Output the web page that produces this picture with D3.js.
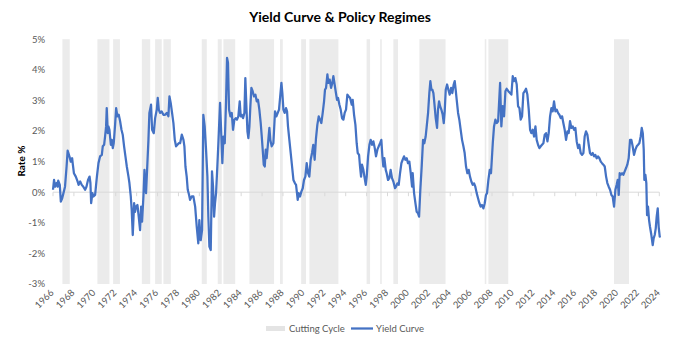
<!DOCTYPE html>
<html><head><meta charset="utf-8">
<script src="https://cdn.jsdelivr.net/npm/d3@7"></script>
<style>body{margin:0;background:#fff}svg{display:block}</style>
</head><body><svg id="c" width="680" height="343"></svg>
<script>
const xTicks=[1966,1968,1970,1972,1974,1976,1978,1980,1982,1984,1986,1988,1990,1992,1994,1996,1998,2000,2002,2004,2006,2008,2010,2012,2014,2016,2018,2020,2022,2024];
const yTicks=[-3,-2,-1,0,1,2,3,4,5];
const cutStart=[1966.9,1970.25,1971.75,1974.5,1975.77,1976.56,1980.23,1981.76,1982.3,1984.79,1987.72,1989.74,1990.53,1996.0,1997.3,1998.56,2001.05,2007.3,2007.65,2019.67];
const cutEnd=[1967.6,1971.4,1972.4,1975.3,1976.4,1977.27,1980.71,1982.14,1983.43,1987.15,1987.98,1990.2,1993.3,1996.33,1997.45,1999.0,2003.55,2007.45,2009.55,2021.1];
const dates=[1966.0,1966.1,1966.2,1966.35,1966.45,1966.5,1966.65,1966.75,1966.88,1967.0,1967.15,1967.3,1967.4,1967.57,1967.7,1967.83,1967.9,1968.0,1968.18,1968.35,1968.45,1968.6,1968.75,1968.9,1969.07,1969.2,1969.35,1969.5,1969.58,1969.65,1969.77,1969.87,1970.03,1970.2,1970.35,1970.5,1970.67,1970.76,1970.89,1970.98,1971.08,1971.14,1971.24,1971.3,1971.4,1971.53,1971.62,1971.72,1971.81,1971.94,1972.04,1972.16,1972.29,1972.42,1972.55,1972.67,1972.8,1972.93,1973.06,1973.22,1973.31,1973.44,1973.53,1973.63,1973.76,1973.85,1973.95,1974.08,1974.2,1974.33,1974.43,1974.52,1974.65,1974.75,1974.84,1974.9,1975.03,1975.13,1975.22,1975.38,1975.48,1975.64,1975.77,1975.93,1976.02,1976.12,1976.24,1976.4,1976.56,1976.72,1976.88,1977.04,1977.14,1977.26,1977.39,1977.52,1977.65,1977.77,1977.9,1978.03,1978.16,1978.32,1978.48,1978.57,1978.67,1978.79,1978.89,1979.02,1979.11,1979.27,1979.43,1979.6,1979.75,1979.9,1980.0,1980.13,1980.26,1980.38,1980.51,1980.64,1980.77,1980.86,1980.96,1981.09,1981.21,1981.31,1981.41,1981.5,1981.6,1981.72,1981.82,1981.98,1982.08,1982.2,1982.3,1982.43,1982.55,1982.65,1982.74,1982.84,1982.97,1983.1,1983.22,1983.35,1983.48,1983.6,1983.73,1983.86,1983.96,1984.05,1984.18,1984.31,1984.4,1984.5,1984.6,1984.69,1984.79,1984.88,1984.98,1985.1,1985.23,1985.36,1985.49,1985.61,1985.74,1985.87,1985.97,1986.06,1986.16,1986.26,1986.35,1986.44,1986.57,1986.7,1986.79,1986.92,1987.08,1987.24,1987.37,1987.5,1987.62,1987.75,1987.85,1987.94,1988.04,1988.16,1988.29,1988.39,1988.48,1988.61,1988.74,1988.87,1989.0,1989.15,1989.25,1989.34,1989.41,1989.5,1989.63,1989.76,1989.89,1990.01,1990.14,1990.27,1990.4,1990.52,1990.65,1990.78,1990.9,1991.03,1991.16,1991.29,1991.42,1991.54,1991.67,1991.8,1991.93,1992.02,1992.12,1992.25,1992.34,1992.47,1992.6,1992.72,1992.82,1992.92,1993.04,1993.17,1993.27,1993.4,1993.52,1993.65,1993.78,1993.9,1994.03,1994.16,1994.29,1994.42,1994.58,1994.67,1994.8,1994.93,1995.05,1995.15,1995.28,1995.37,1995.47,1995.56,1995.69,1995.79,1995.92,1996.01,1996.14,1996.27,1996.39,1996.52,1996.65,1996.78,1996.9,1997.03,1997.16,1997.29,1997.41,1997.51,1997.6,1997.7,1997.83,1997.92,1998.05,1998.18,1998.3,1998.43,1998.56,1998.72,1998.82,1998.94,1999.07,1999.2,1999.33,1999.45,1999.58,1999.71,1999.84,1999.96,2000.09,2000.22,2000.35,2000.41,2000.54,2000.67,2000.79,2000.92,2001.02,2001.14,2001.27,2001.4,2001.52,2001.65,2001.75,2001.88,2002.0,2002.1,2002.2,2002.29,2002.39,2002.48,2002.61,2002.74,2002.83,2002.93,2003.03,2003.15,2003.28,2003.38,2003.47,2003.57,2003.7,2003.82,2003.95,2004.08,2004.2,2004.33,2004.43,2004.52,2004.62,2004.75,2004.87,2005.0,2005.13,2005.26,2005.38,2005.51,2005.64,2005.77,2005.89,2006.02,2006.15,2006.28,2006.4,2006.53,2006.66,2006.79,2006.91,2007.04,2007.17,2007.3,2007.42,2007.52,2007.65,2007.78,2007.9,2008.07,2008.19,2008.32,2008.45,2008.58,2008.77,2008.89,2009.02,2009.15,2009.28,2009.4,2009.56,2009.72,2009.85,2009.98,2010.1,2010.23,2010.36,2010.49,2010.62,2010.74,2010.87,2011.0,2011.13,2011.25,2011.38,2011.51,2011.64,2011.76,2011.89,2012.02,2012.15,2012.27,2012.4,2012.53,2012.66,2012.78,2012.91,2013.04,2013.17,2013.3,2013.42,2013.55,2013.68,2013.8,2013.93,2014.06,2014.19,2014.31,2014.44,2014.57,2014.7,2014.82,2014.95,2015.08,2015.21,2015.33,2015.46,2015.59,2015.72,2015.85,2015.97,2016.1,2016.23,2016.35,2016.48,2016.61,2016.74,2016.86,2016.99,2017.12,2017.25,2017.37,2017.5,2017.63,2017.76,2017.88,2018.01,2018.14,2018.27,2018.4,2018.52,2018.65,2018.78,2018.91,2019.03,2019.16,2019.29,2019.42,2019.54,2019.67,2019.8,2019.92,2020.02,2020.12,2020.21,2020.31,2020.44,2020.56,2020.69,2020.82,2020.94,2021.07,2021.2,2021.33,2021.45,2021.58,2021.71,2021.84,2021.97,2022.09,2022.22,2022.32,2022.42,2022.51,2022.57,2022.67,2022.76,2022.83,2022.92,2023.02,2023.11,2023.24,2023.37,2023.46,2023.56,2023.66,2023.75,2023.85,2023.94,2024.04,2024.1];
const yields=[0.08,0.40,0.18,0.30,0.18,0.38,0.24,-0.31,-0.20,-0.03,0.18,0.84,1.36,1.17,1.00,1.11,0.90,0.62,0.51,0.35,0.24,0.35,0.24,0.18,0.08,0.18,0.40,0.51,0.30,-0.36,-0.03,-0.14,-0.09,0.51,0.95,1.17,1.22,1.50,1.55,1.82,2.15,2.75,1.93,2.15,2.04,1.55,1.71,1.44,1.60,2.20,2.75,2.48,2.53,2.32,2.04,1.88,1.50,1.17,0.84,0.51,0.30,-0.14,-0.58,-1.40,-0.36,-0.64,-0.47,-0.42,-0.80,-1.24,-0.47,-0.96,-0.14,0.73,0.07,-0.03,0.95,1.71,2.59,2.86,2.04,1.93,2.42,2.70,3.08,2.70,2.59,2.64,2.53,2.53,2.59,2.48,3.13,2.92,2.59,2.26,1.71,1.50,1.55,1.60,1.60,1.88,1.71,1.50,0.84,0.51,0.08,-0.09,-0.25,-0.14,-0.14,-0.47,-1.13,-1.67,-0.91,-1.57,-1.24,2.53,2.15,1.39,0.51,-0.80,-1.78,-1.89,0.68,0.18,-0.80,-0.36,-0.03,0.84,1.60,2.92,2.04,0.95,1.82,1.60,2.92,4.39,4.23,2.70,2.48,2.59,2.04,2.37,2.42,2.37,2.48,2.97,2.48,2.53,2.42,2.59,3.73,2.81,1.99,1.77,2.15,2.81,3.41,3.30,3.13,3.19,2.97,3.02,2.70,2.26,1.82,1.39,0.90,0.84,1.39,1.11,1.60,2.10,1.71,1.50,1.60,2.64,2.48,2.59,2.70,3.19,3.57,3.24,2.70,2.59,2.75,2.64,2.15,1.71,1.28,0.84,0.40,0.29,0.24,-0.03,-0.25,-0.03,-0.14,0.02,0.13,0.40,0.51,0.95,0.62,0.51,1.06,1.28,1.55,1.06,1.77,2.21,2.48,2.37,2.26,2.59,2.97,3.35,3.41,3.85,3.57,3.68,3.41,3.57,3.79,3.57,3.30,3.02,3.08,2.86,2.70,2.42,2.37,2.59,2.70,3.19,3.13,3.08,2.86,3.02,2.53,2.20,1.60,1.28,1.22,0.84,0.51,0.90,0.73,0.51,0.24,0.51,1.17,1.55,1.71,1.55,1.66,1.44,1.17,1.39,1.50,1.60,1.71,1.17,0.84,1.11,0.73,0.62,0.40,0.46,0.73,0.46,0.35,0.13,0.18,0.29,0.24,0.62,0.95,1.06,1.17,1.06,1.11,0.95,1.00,0.62,0.18,0.62,-0.03,-0.36,-0.64,-0.69,-0.80,0.08,0.84,1.71,1.60,1.82,2.15,2.59,3.24,3.63,3.35,3.35,3.24,2.92,2.42,2.10,2.70,2.97,2.81,2.70,2.53,2.26,2.64,3.35,3.52,3.35,3.19,3.41,3.24,3.52,3.63,3.35,3.02,2.59,2.37,2.04,1.71,1.50,1.28,0.84,0.62,0.73,0.51,0.35,0.24,0.29,0.18,-0.03,-0.20,-0.36,-0.47,-0.42,-0.53,-0.36,-0.09,-0.03,0.40,0.73,0.62,1.60,2.15,2.37,2.26,2.32,3.57,2.15,2.81,2.48,3.30,3.38,3.30,3.24,3.19,3.79,3.63,3.73,3.52,2.81,2.75,2.37,2.48,3.24,3.30,3.38,3.19,2.70,2.04,1.93,2.04,1.82,2.15,1.71,1.55,1.44,1.50,1.55,1.60,1.88,1.93,1.66,1.93,2.48,2.75,2.64,2.97,2.64,2.70,2.59,2.53,2.42,2.48,2.26,2.04,1.71,1.99,1.93,2.32,2.10,2.15,2.04,2.10,1.66,1.44,1.55,1.28,1.22,1.28,1.82,1.99,1.88,1.55,1.28,1.22,1.28,1.17,1.22,1.11,1.17,1.11,1.00,0.95,0.90,0.84,0.51,0.30,0.18,0.08,-0.09,-0.14,-0.47,0.08,0.24,0.40,-0.09,0.62,0.57,0.62,0.57,0.68,0.79,0.90,1.11,1.71,1.71,1.50,1.22,1.39,1.50,1.55,1.60,1.82,2.10,1.93,1.39,0.40,0.57,0.30,-0.75,-0.47,-0.91,-1.13,-1.40,-1.73,-1.51,-1.40,-1.18,-0.80,-0.53,-1.13,-1.45,-1.43];

const FONT="Lato, 'Open Sans', 'Liberation Sans', sans-serif";
const svg=d3.select("#c");
const x=d3.scaleLinear().domain([1966,2024]).range([53,659.3]);
const y=d3.scaleLinear().domain([-3,5]).range([284,39.2]);

// bands
svg.append("g").selectAll("rect").data(cutStart.map((s,i)=>[s,cutEnd[i]])).join("rect")
  .attr("x",d=>x(d[0])).attr("width",d=>x(d[1])-x(d[0]))
  .attr("y",y(5)).attr("height",y(-3)-y(5)).attr("fill","#ebebeb");

// zero axis line with ticks
svg.append("line").attr("x1",x(1966)).attr("x2",x(2024)).attr("y1",y(0)).attr("y2",y(0))
  .attr("stroke","#d9d9d9").attr("stroke-width",1);
svg.append("g").selectAll("line").data(xTicks).join("line")
  .attr("x1",d=>x(d)).attr("x2",d=>x(d)).attr("y1",y(0)).attr("y2",y(0)+4)
  .attr("stroke","#d9d9d9").attr("stroke-width",1);

// y labels
svg.append("g").selectAll("text").data(yTicks).join("text")
  .attr("x",45).attr("y",d=>y(d)).attr("dy","0.35em").attr("text-anchor","end")
  .attr("font-family",FONT).attr("font-size",9.5).attr("fill","#595959")
  .text(d=>d+"%");

// x labels
svg.append("g").selectAll("text").data(xTicks).join("text")
  .attr("transform",d=>`translate(${x(d)-1},${291}) rotate(-45)`)
  .attr("dy","0.35em").attr("text-anchor","end")
  .attr("font-family",FONT).attr("font-size",9.5).attr("fill","#595959")
  .text(d=>d);

// line
const pts=dates.map((d,i)=>[d,yields[i]]);
svg.append("path").datum(pts)
  .attr("d",d3.line().x(d=>x(d[0])).y(d=>y(d[1])))
  .attr("fill","none").attr("stroke","#4472C4").attr("stroke-width",2.25)
  .attr("stroke-linejoin","round");

// title
svg.append("text").attr("x",340).attr("y",22).attr("text-anchor","middle")
  .attr("font-family",FONT).attr("font-weight","bold").attr("font-size",14).attr("fill","#000")
  .text("Yield Curve & Policy Regimes");
svg.append("text").attr("transform","translate(25,161) rotate(-90)").attr("text-anchor","middle")
  .attr("font-family",FONT).attr("font-weight","bold").attr("font-size",10).attr("fill","#000")
  .text("Rate %");

// legend
const lg=svg.append("g");
lg.append("rect").attr("x",266).attr("y",326).attr("width",19).attr("height",5).attr("fill","#e4e4e4");
lg.append("text").attr("x",289).attr("y",328.5).attr("dy","0.35em").attr("font-family",FONT)
  .attr("font-size",9.5).attr("fill","#595959").text("Cutting Cycle");
lg.append("line").attr("x1",351).attr("x2",373).attr("y1",328.5).attr("y2",328.5)
  .attr("stroke","#4472C4").attr("stroke-width",2.25);
lg.append("text").attr("x",376).attr("y",328.5).attr("dy","0.35em").attr("font-family",FONT)
  .attr("font-size",9.5).attr("fill","#595959").text("Yield Curve");
</script></body></html>
